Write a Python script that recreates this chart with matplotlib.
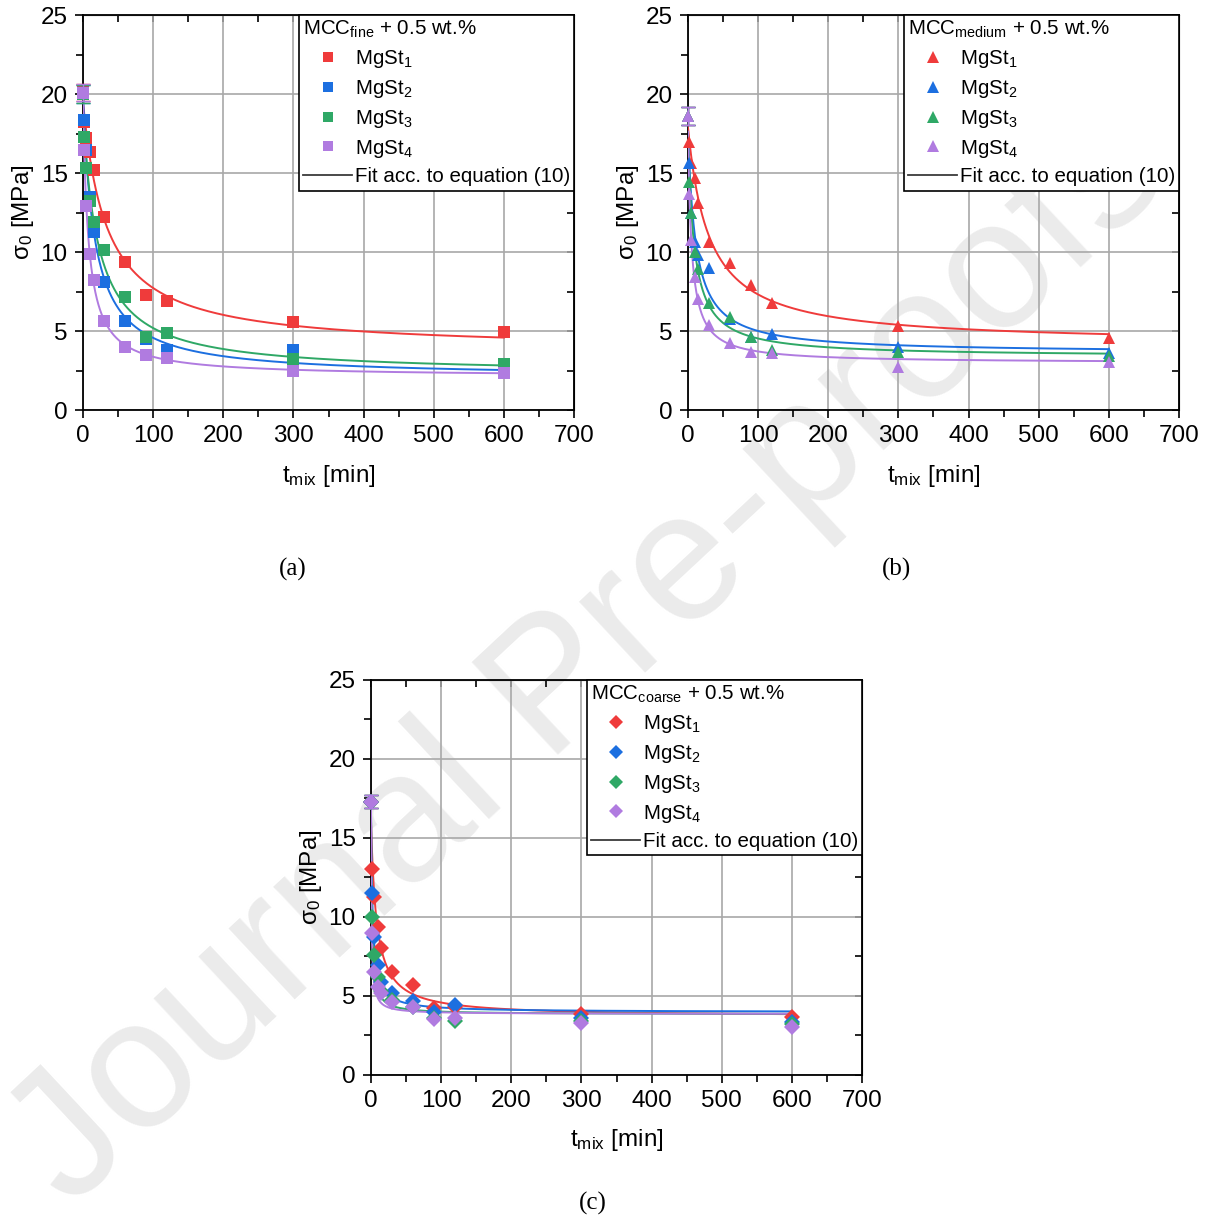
import numpy as np
import matplotlib
matplotlib.use("Agg")
import matplotlib.pyplot as plt
from matplotlib.lines import Line2D
from matplotlib.ticker import MultipleLocator

plt.rcParams['font.family'] = ['Liberation Sans', 'DejaVu Sans']
plt.rcParams['mathtext.fontset'] = 'custom'
plt.rcParams['mathtext.rm'] = 'Liberation Sans'
plt.rcParams['mathtext.it'] = 'Liberation Sans:italic'

# mixing times [min]
t_mix = [0, 1, 5, 10, 15, 30, 60, 90, 120, 300, 600]

# sigma_0 [MPa], MCC fine
fine_st1 = [20.1, 18.2, 17.2, 16.3, 15.2, 12.2, 9.4, 7.3, 6.9, 5.55, 4.96]
fine_st2 = [20.0, 18.35, 16.45, 13.5, 11.25, 8.1, 5.65, 4.47, 3.8, 3.8, 2.53]
fine_st3 = [20.0, 17.26, 15.3, 13.25, 11.88, 10.13, 7.13, 4.64, 4.85, 3.25, 2.89]
fine_st4 = [20.08, 16.46, 12.9, 9.87, 8.23, 5.65, 4.0, 3.48, 3.27, 2.47, 2.32]

# MCC medium
medium_st1 = [18.6, 16.95, 15.65, 14.66, 13.1, 10.62, 9.3, 7.91, 6.79, 5.32, 4.58]
medium_st2 = [18.6, 15.65, 12.45, 10.65, 9.81, 8.97, 5.74, 4.64, 4.81, 4.0, 3.59]
medium_st3 = [18.6, 14.45, 12.45, 10.0, 8.9, 6.79, 5.9, 4.6, 3.8, 3.69, 3.45]
medium_st4 = [18.62, 13.67, 10.76, 8.44, 7.0, 5.38, 4.26, 3.69, 3.63, 2.74, 3.06]

# MCC coarse
coarse_st1 = [17.3, 13.04, 11.29, 9.39, 8.02, 6.54, 5.7, 4.22, 4.32, 3.86, 3.69]
coarse_st2 = [17.3, 11.54, 8.75, 6.96, 5.9, 5.21, 4.7, 4.0, 4.43, 3.6, 3.33]
coarse_st3 = [17.3, 10.02, 7.6, 6.22, 5.3, 4.75, 4.32, 3.6, 3.42, 3.44, 3.23]
coarse_st4 = [17.3, 9.0, 6.54, 5.59, 5.2, 4.6, 4.3, 3.52, 3.59, 3.27, 3.02]

# std. deviation of the unmixed state (t = 0)
err_t0 = {'fine': 0.55, 'medium': 0.56, 'coarse': 0.42}

labels = ['MgSt$_1$', 'MgSt$_2$', 'MgSt$_3$', 'MgSt$_4$']
colors = ['#ef3b3b', '#1c6fe0', '#2fa866', '#b07be0']


def fit_hyperbola(t, y):
    # sigma = s_inf + A / (1 + k t), k by grid search, s_inf and A by least squares
    t = np.asarray(t, float)
    y = np.asarray(y, float)
    best = None
    for k in np.logspace(-3, 1.5, 600):
        X = np.column_stack([np.ones_like(t), 1.0 / (1.0 + k * t)])
        coef = np.linalg.lstsq(X, y, rcond=None)[0]
        err = np.sum((X @ coef - y) ** 2)
        if best is None or err < best[0]:
            best = (err, k, coef)
    return best[1], best[2]


def draw_panel(ax, series, marker, ms, title, err0):
    tt = np.linspace(0, 600, 3000)
    for y, c in zip(series, colors):
        k, (s_inf, A) = fit_hyperbola(t_mix, y)
        ax.plot(tt, s_inf + A / (1 + k * tt), color=c, lw=1.4, zorder=3)
    for y, c in zip(series, colors):
        ax.plot(t_mix, y, ls='none', marker=marker, ms=ms, color=c, mew=0, zorder=4, clip_on=False)
        ax.errorbar(t_mix[0], y[0], yerr=err0, color=c, capsize=5, lw=1, capthick=1,
                    zorder=4, clip_on=False)

    ax.set_xlim(0, 700)
    ax.set_ylim(0, 25)
    ax.xaxis.set_major_locator(MultipleLocator(100))
    ax.xaxis.set_minor_locator(MultipleLocator(50))
    ax.yaxis.set_major_locator(MultipleLocator(5))
    ax.yaxis.set_minor_locator(MultipleLocator(2.5))
    ax.grid(True, which='major', color='#a8a8a8', lw=1.2, zorder=0)
    ax.set_axisbelow(True)
    ax.tick_params(which='both', direction='out', width=1.2, labelsize=17.5, pad=5)
    ax.tick_params(which='major', length=6)
    ax.tick_params(which='minor', length=5)
    for s in ax.spines.values():
        s.set_linewidth(1.3)
    ax.set_facecolor('none')

    # inward ticks on the opposite sides
    top = ax.secondary_xaxis('top')
    top.xaxis.set_major_locator(MultipleLocator(100))
    top.xaxis.set_minor_locator(MultipleLocator(50))
    top.tick_params(which='both', direction='in', labeltop=False, width=1.2, length=5)
    right = ax.secondary_yaxis('right')
    right.yaxis.set_major_locator(MultipleLocator(5))
    right.yaxis.set_minor_locator(MultipleLocator(2.5))
    right.tick_params(which='both', direction='in', labelright=False, width=1.2, length=5)

    ax.set_xlabel('t$_\\mathrm{mix}$ [min]', fontsize=17.5, labelpad=11)
    ax.set_ylabel('σ$_0$ [MPa]', fontsize=17.5, labelpad=3)

    handles = [Line2D([], [], ls='none', marker=marker, ms=ms - 1, color=c, mew=0) for c in colors]
    handles.append(Line2D([], [], color='#3a3a3a', lw=1.3))
    leg = ax.legend(handles, labels + ['Fit acc. to equation (10)'], title=title,
                    loc='upper right', borderaxespad=0, fancybox=False, framealpha=1,
                    edgecolor='black', fontsize=14.8, title_fontsize=14.8, alignment='left',
                    handlelength=2.4, handletextpad=0.12, labelspacing=0.38, borderpad=0.2)
    leg.get_frame().set_linewidth(1.2)
    leg.set_zorder(5)


fig = plt.figure(figsize=(12.08, 12.20), dpi=100)
fig.patch.set_facecolor('white')

fig.text(0.488, 0.459, 'Journal Pre-proofs', fontsize=132, rotation=43, color='#ebebeb',
         ha='center', va='center', zorder=-1)

ax_a = fig.add_axes([0.0687, 0.6639, 0.4065, 0.3238])
ax_b = fig.add_axes([0.5695, 0.6639, 0.4065, 0.3238])
ax_c = fig.add_axes([0.3071, 0.1189, 0.4065, 0.3238])

draw_panel(ax_a, [fine_st1, fine_st2, fine_st3, fine_st4], 's', 8,
           'MCC$_\\mathrm{fine}$ + 0.5 wt.%', err_t0['fine'])
draw_panel(ax_b, [medium_st1, medium_st2, medium_st3, medium_st4], '^', 9,
           'MCC$_\\mathrm{medium}$ + 0.5 wt.%', err_t0['medium'])
draw_panel(ax_c, [coarse_st1, coarse_st2, coarse_st3, coarse_st4], 'D', 8.5,
           'MCC$_\\mathrm{coarse}$ + 0.5 wt.%', err_t0['coarse'])

for x, y, s in [(0.2425, 0.533, '(a)'), (0.7425, 0.533, '(b)'), (0.491, 0.0139, '(c)')]:
    fig.text(x, y, s, family='Liberation Serif', fontsize=18, ha='center', va='center')

fig.savefig('out.png', dpi=100)
